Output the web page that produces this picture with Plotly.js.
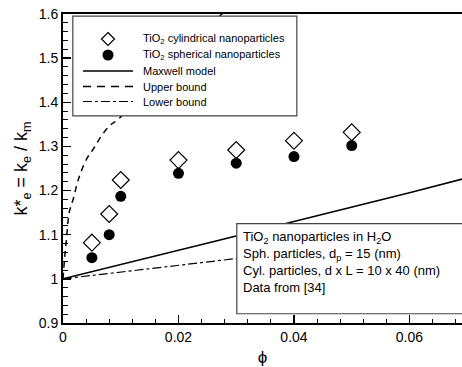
<!DOCTYPE html>
<html>
<head>
<meta charset="utf-8">
<script src="https://cdn.plot.ly/plotly-3.0.1.min.js"></script>
<style>html,body{margin:0;padding:0;background:#fff;} #chart{width:462px;height:367px;}</style>
</head>
<body>
<div id="chart"></div>
<script>
// Experimental data (volume fraction phi, effective conductivity ratio)
var phiData = [0.005, 0.008, 0.01, 0.02, 0.03, 0.04, 0.05];
var kCylindrical = [1.082, 1.147, 1.224, 1.269, 1.292, 1.313, 1.332];
var kSpherical = [1.048, 1.100, 1.187, 1.239, 1.262, 1.277, 1.302];

// Model curves
var phiModel = [0, 0.01, 0.02, 0.03, 0.04, 0.05, 0.06, 0.07];
var kMaxwell = [1, 1.032, 1.065, 1.097, 1.130, 1.162, 1.195, 1.229];
var kLower = [1, 1.015, 1.030, 1.046, 1.062, 1.078, 1.094, 1.110];

var phiUpper = [0, 0.0003, 0.0006, 0.0011, 0.0018, 0.0027, 0.0041, 0.0053, 0.0067, 0.0081, 0.0096, 0.015, 0.02, 0.0275, 0.03];
var kUpper = [1, 1.05, 1.09, 1.152, 1.182, 1.227, 1.272, 1.295, 1.325, 1.347, 1.362, 1.44, 1.51, 1.60, 1.63];

var seriesNames = ['TiO<sub>2</sub> cylindrical nanoparticles', 'TiO<sub>2</sub> spherical nanoparticles', 'Maxwell model', 'Upper bound', 'Lower bound'];
var noteLines = ['TiO<sub>2</sub> nanoparticles in H<sub>2</sub>O', 'Sph. particles, d<sub>p</sub> = 15 (nm)', 'Cyl. particles, d x L = 10 x 40 (nm)', 'Data from [34]'];

var FONT = 'Liberation Sans, Arial, Helvetica, sans-serif';

// plot-area geometry (pixels) used to place the hand-made legend
var M = {l: 63, r: 0, t: 14, b: 44};
var W = 462, H = 367;
var PW = W - M.l - M.r, PH = H - M.t - M.b;
function px(x) { return (x - M.l) / PW; }
function py(y) { return (H - M.b - y) / PH; }

var traces = [
  {x: phiData, y: kCylindrical, name: seriesNames[0], mode: 'markers', type: 'scatter',
   marker: {symbol: 'diamond-open', size: 13, color: '#000', line: {width: 1.2, color: '#000'}}},
  {x: phiData, y: kSpherical, name: seriesNames[1], mode: 'markers', type: 'scatter',
   marker: {symbol: 'circle', size: 11, color: '#000'}},
  {x: phiModel, y: kMaxwell, name: seriesNames[2], mode: 'lines', type: 'scatter',
   line: {color: '#000', width: 1.5}},
  {x: phiUpper, y: kUpper, name: seriesNames[3], mode: 'lines', type: 'scatter',
   line: {color: '#000', width: 1.5, dash: '6px,5px', shape: 'spline'}},
  {x: phiModel, y: kLower, name: seriesNames[4], mode: 'lines', type: 'scatter',
   line: {color: '#000', width: 1.2, dash: 'dashdot'}}
];

// legend rows (pixel y of each row), symbol column and text column
var rowY = [39, 55, 71, 86.5, 101.5];
var symX = 108, lineX0 = 83, lineX1 = 133, textX = 141;

var shapes = [
  {type: 'rect', xref: 'x', yref: 'y', x0: 0.0017, x1: 0.0405, y0: 1.369, y1: 1.595,
   fillcolor: '#fff', line: {color: '#444', width: 1.2}, layer: 'above'},
  {type: 'rect', xref: 'x', yref: 'y', x0: 0.0301, x1: 0.08, y0: 0.921, y1: 1.125,
   fillcolor: '#fff', line: {color: '#444', width: 1.2}, layer: 'above'}
];
// legend symbols
var dr = 6.5;
shapes.push({type: 'path', xref: 'paper', yref: 'paper', layer: 'above',
  path: 'M' + px(symX) + ',' + py(rowY[0] - dr) + ' L' + px(symX + dr) + ',' + py(rowY[0]) +
        ' L' + px(symX) + ',' + py(rowY[0] + dr) + ' L' + px(symX - dr) + ',' + py(rowY[0]) + ' Z',
  fillcolor: '#fff', line: {color: '#000', width: 1.2}});
var cr = 5.5;
shapes.push({type: 'circle', xref: 'paper', yref: 'paper', layer: 'above',
  x0: px(symX - cr), x1: px(symX + cr), y0: py(rowY[1] + cr), y1: py(rowY[1] - cr),
  fillcolor: '#000', line: {color: '#000', width: 0}});
var lineStyles = [
  {color: '#000', width: 1.5, dash: 'solid'},
  {color: '#000', width: 1.5, dash: '8px,6px'},
  {color: '#000', width: 1.2, dash: 'dashdot'}
];
for (var i = 0; i < 3; i++) {
  shapes.push({type: 'line', xref: 'paper', yref: 'paper', layer: 'above',
    x0: px(lineX0), x1: px(lineX1), y0: py(rowY[i + 2]), y1: py(rowY[i + 2]), line: lineStyles[i]});
}

var annotations = [
  {xref: 'x', yref: 'y', x: 0.0308, y: 1.118, xanchor: 'left', yanchor: 'top', align: 'left',
   showarrow: false, text: noteLines.join('<br>'), font: {size: 13, family: FONT, color: '#000'}}
];
for (var j = 0; j < seriesNames.length; j++) {
  annotations.push({xref: 'paper', yref: 'paper', x: px(textX), y: py(rowY[j]), xanchor: 'left', yanchor: 'middle',
    showarrow: false, text: seriesNames[j], font: {size: 11, family: FONT, color: '#000'}});
}

var layout = {
  width: W, height: H,
  margin: {l: M.l, r: M.r, t: M.t, b: M.b, pad: 0},
  paper_bgcolor: '#fff', plot_bgcolor: '#fff',
  font: {family: FONT, color: '#000', size: 13},
  showlegend: false,
  xaxis: {
    range: [0, 0.0691], dtick: 0.02, tick0: 0,
    showgrid: false, zeroline: false,
    showline: true, linecolor: '#000', linewidth: 2, mirror: true,
    ticks: 'inside', ticklen: 8, tickwidth: 1.5, tickcolor: '#000',
    minor: {ticks: 'inside', ticklen: 4, dtick: 0.004, tickcolor: '#000', tickwidth: 1},
    tickfont: {size: 14, family: FONT},
    title: {text: '\u03d5', font: {size: 17, family: FONT}, standoff: 8}
  },
  yaxis: {
    range: [0.9, 1.6], dtick: 0.1, tick0: 0.9,
    showgrid: false, zeroline: false,
    showline: true, linecolor: '#000', linewidth: 2, mirror: false,
    ticks: 'inside', ticklen: 8, tickwidth: 1.5, tickcolor: '#000',
    minor: {ticks: 'inside', ticklen: 5, dtick: 0.02, tickcolor: '#000', tickwidth: 1},
    tickfont: {size: 14, family: FONT},
    title: {text: 'k*<sub>e</sub> = k<sub>e</sub> / k<sub>m</sub>', font: {size: 18, family: FONT}, standoff: 6}
  },
  shapes: shapes,
  annotations: annotations
};

Plotly.newPlot('chart', traces, layout, {displayModeBar: false, staticPlot: true});
</script>
</body>
</html>
